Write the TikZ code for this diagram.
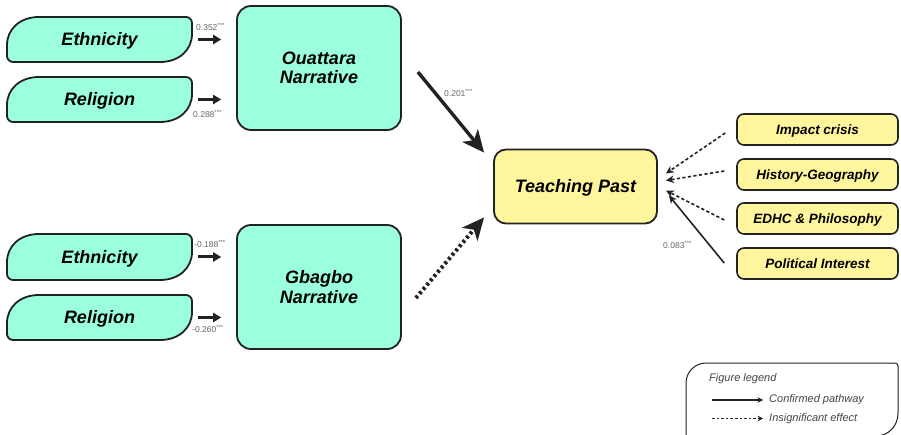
\documentclass[tikz,border=0pt]{standalone}
\usepackage{fontspec}
\setmainfont{Liberation Sans}
\usetikzlibrary{arrows.meta,backgrounds,calc}

\definecolor{mint}{HTML}{9BFFDE}
\definecolor{lemon}{HTML}{FFF59D}
\definecolor{ink}{HTML}{222222}
\definecolor{note}{HTML}{666666}
\definecolor{legendgray}{HTML}{444444}

% Leaf outline: large rounded top-left and bottom-right corners, small elsewhere.
% Arguments: x1, y1 (top left), x2, y2 (bottom right); y grows downward.
\newcommand\leafshape[4]{%
  \draw[leafline] (#1,#4-6) -- (#1,#2+28)
    .. controls (#1,#2+12.5) and (#1+12.5,#2) .. (#1+32,#2)
    -- (#3-6,#2) .. controls (#3-2.7,#2) and (#3,#2+2.7) .. (#3,#2+6)
    -- (#3,#4-28) .. controls (#3,#4-12.5) and (#3-12.5,#4) .. (#3-32,#4)
    -- (#1+6,#4) .. controls (#1+2.7,#4) and (#1,#4-2.7) .. (#1,#4-6) -- cycle;}

\begin{document}
\begin{tikzpicture}[x=1pt,y=-1pt,
  leafline/.style={draw=ink, line width=1.8pt, fill=mint},
  leaf/.style={minimum width=185pt, minimum height=45pt, inner sep=0pt,
    text height=12.9pt, text depth=0pt,
    font=\fontsize{18}{20}\selectfont\bfseries\itshape},
  bigbox/.style={draw=ink, line width=1.8pt, rounded corners=14pt, fill=mint,
    minimum width=164pt, minimum height=124pt, align=center, inner sep=0pt,
    font=\fontsize{18}{19.5}\selectfont\bfseries\itshape},
  target/.style={draw=ink, line width=1.8pt, rounded corners=12pt, fill=lemon,
    minimum width=163pt, minimum height=74pt, inner sep=0pt,
    text height=12.9pt, text depth=0pt,
    font=\fontsize{18}{20}\selectfont\bfseries\itshape},
  factor/.style={draw=ink, line width=1.6pt, rounded corners=7pt, fill=lemon,
    minimum width=161pt, minimum height=31pt, inner sep=0pt,
    text height=9.7pt, text depth=0pt,
    font=\fontsize{13.5}{15}\selectfont\bfseries\itshape},
  coef/.style={font=\fontsize{8.5}{9}\selectfont, text=note, inner sep=0pt},
  sarrow/.style={draw=ink, line width=3pt, -{Triangle[length=8pt,width=9pt]}},
  bigarrow/.style={draw=ink, line width=3.4pt, -{Stealth[length=22pt,width=20pt,inset=6pt]}},
  dotarrow/.style={bigarrow, line width=4pt, dash pattern=on 2.8pt off 2.8pt},
  thinarrow/.style={draw=ink, line width=1.6pt, -{Stealth[length=8pt,width=7.5pt]}},
  thindash/.style={thinarrow, dash pattern=on 3.2pt off 2.4pt},
  legline/.style={draw=ink, line width=1pt},
  legtxt/.style={font=\fontsize{11}{13}\selectfont\itshape, text=legendgray, inner sep=0pt},
  legarrow/.style={draw=ink, line width=1.4pt, -{Stealth[length=5.5pt,width=5.5pt]}},
  legdash/.style={legarrow, dash pattern=on 2.6pt off 2pt}]

\useasboundingbox (0,0) rectangle (901,435);

% Predictor leaves
\node[leaf] (e1) at (99.5,39.5) {Ethnicity};
\node[leaf] (r1) at (99.5,99.5) {Religion};
\node[leaf] (e2) at (99.5,257) {Ethnicity};
\node[leaf] (r2) at (99.5,317.5) {Religion};
\begin{scope}[on background layer]
  \leafshape{7}{17}{192}{62}
  \leafshape{7}{77}{192}{122}
  \leafshape{7}{234}{192}{280}
  \leafshape{7}{295}{192}{340}
\end{scope}

% Narratives and outcome
\node[bigbox] (ouat) at (319,68) {Ouattara\\Narrative};
\node[bigbox] (gbag) at (319,287) {Gbagbo\\Narrative};
\node[target] (teach) at (575.5,186.5) {Teaching Past};

% Control factors
\node[factor] (imp) at (817.5,129.5) {Impact crisis};
\node[factor] (hist) at (817.5,174.5) {History-Geography};
\node[factor] (edhc) at (817.5,218.5) {EDHC \& Philosophy};
\node[factor] (pol) at (817.5,263.5) {Political Interest};

% Short arrows from leaves to narratives
\draw[sarrow] ([xshift=6pt]e1.east) -- ([xshift=29pt]e1.east);
\draw[sarrow] ([xshift=6pt]r1.east) -- ([xshift=29pt]r1.east);
\draw[sarrow] ([xshift=6pt]e2.east) -- ([xshift=29pt]e2.east);
\draw[sarrow] ([xshift=6pt]r2.east) -- ([xshift=29pt]r2.east);

\node[coef, anchor=west] (c1) at (196,27) {0.352\textsuperscript{***}};
\node[coef, anchor=west] (c2) at (193,114) {0.288\textsuperscript{***}};
\node[coef, anchor=west] (c3) at (194,244) {-0.188\textsuperscript{***}};
\node[coef, anchor=west] (c4) at (192,329) {-0.260\textsuperscript{***}};

% Narratives to outcome
\draw[bigarrow] ($(ouat.east)+(16,4)$) -- ($(teach.north west)+(-9,4)$);
\draw[dotarrow] ($(gbag.east)+(14,11)$) -- ($(teach.south west)+(-9,-7)$);
\node[coef, anchor=west] (c5) at (444,93) {0.201\textsuperscript{***}};

% Control factors to outcome
\draw[thindash] ($(imp.west)+(-11,3.5)$) -- ($(teach.east)+(8,-13)$);
\draw[thindash] ($(hist.west)+(-12,-3.5)$) -- ($(teach.east)+(8,-6)$);
\draw[thindash] ($(edhc.west)+(-12,1.5)$) -- ($(teach.east)+(8,4)$);
\draw[thinarrow] ($(pol.west)+(-12,-0.5)$) -- ($(teach.east)+(11,9)$);
\node[coef, anchor=west] (c6) at (663,245) {0.083\textsuperscript{***}};

% Legend
\draw[legline] (686,445) -- (686,383) .. controls (686,372) and (695,363) .. (706,363)
  -- (895,363) .. controls (896.7,363) and (898,364.3) .. (898,366)
  -- (898,413) .. controls (898,425.7) and (888.7,436) .. (876,436) -- (686,436);
\node[legtxt, anchor=west] (lt) at (709,379) {Figure legend};
\node[legtxt, anchor=west] (l1) at (769,400) {Confirmed pathway};
\node[legtxt, anchor=west] (l2) at (769,418.5) {Insignificant effect};
\draw[legarrow] ([xshift=-57pt]l1.west) -- ([xshift=-6pt]l1.west);
\draw[legdash] ([xshift=-57pt]l2.west) -- ([xshift=-6pt]l2.west);

\end{tikzpicture}
\end{document}
